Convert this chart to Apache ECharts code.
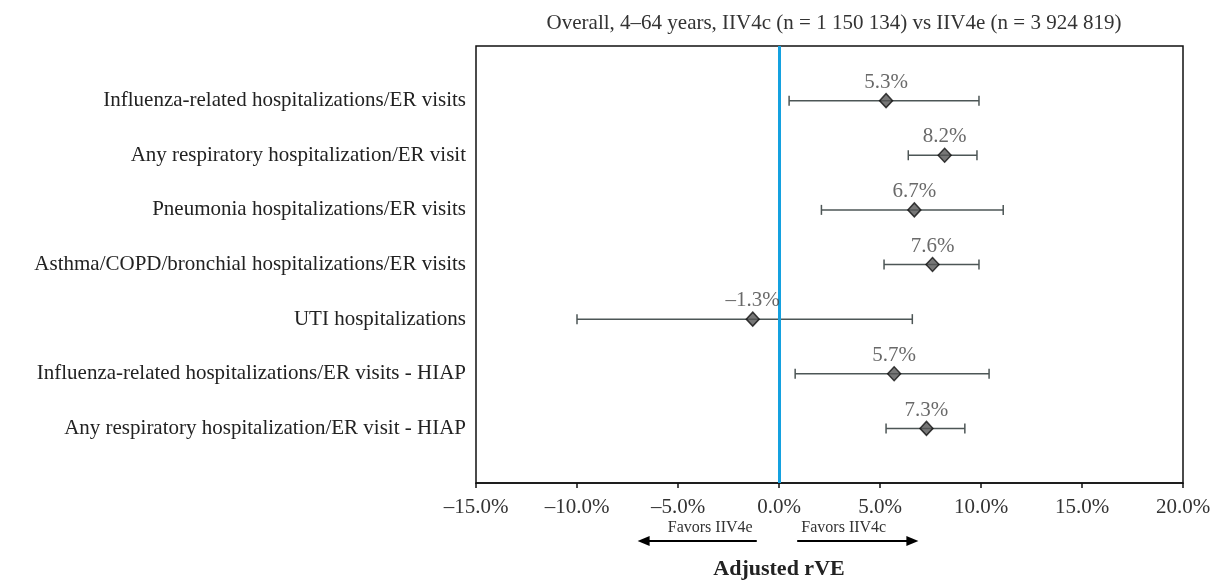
<!DOCTYPE html>
<html>
<head>
<meta charset="utf-8">
<script src="https://cdn.jsdelivr.net/npm/echarts@6/dist/echarts.min.js"></script>
<style>
html,body{margin:0;padding:0;background:#fff;}
#chart{width:1210px;height:580px;}
</style>
</head>
<body>
<div id="chart"></div>
<script>
const titleText = 'Overall, 4\u201364 years, IIV4c (n = 1 150 134) vs IIV4e (n = 3 924 819)';
const categories = [
  'Influenza-related hospitalizations/ER visits',
  'Any respiratory hospitalization/ER visit',
  'Pneumonia hospitalizations/ER visits',
  'Asthma/COPD/bronchial hospitalizations/ER visits',
  'UTI hospitalizations',
  'Influenza-related hospitalizations/ER visits - HIAP',
  'Any respiratory hospitalization/ER visit - HIAP'
];
const estimates = [5.3, 8.2, 6.7, 7.6, -1.3, 5.7, 7.3];
const lower = [0.5, 6.4, 2.1, 5.2, -10.0, 0.8, 5.3];
const upper = [9.9, 9.8, 11.1, 9.9, 6.6, 10.4, 9.2];
const xTicks = [-15, -10, -5, 0, 5, 10, 15, 20];
const xAxisTitle = 'Adjusted rVE';
const leftNote = 'Favors IIV4e';
const rightNote = 'Favors IIV4c';
const leftArrow = [-1.1, -7.0];
const rightArrow = [0.9, 6.9];

const FONT = '"Liberation Serif", "DejaVu Serif", serif';
const fmtPct = v => (v < 0 ? '\u2013' : '') + Math.abs(v).toFixed(1) + '%';

const chart = echarts.init(document.getElementById('chart'), null, {renderer: 'canvas'});

const rows = categories.map((c, i) => i + 1);

const option = {
  animation: false,
  backgroundColor: '#fff',
  textStyle: {fontFamily: FONT},
  title: {
    text: titleText,
    left: 829, top: 8, textAlign: 'center',
    textStyle: {fontFamily: FONT, fontSize: 21, fontWeight: 'normal', color: '#333'}
  },
  grid: {
    left: 476, right: 27, top: 46, bottom: 97,
    outerBoundsMode: 'none', containLabel: false,
    show: true, borderColor: '#111', borderWidth: 1.5, backgroundColor: 'transparent'
  },
  xAxis: {
    type: 'value', min: xTicks[0], max: xTicks[xTicks.length - 1], interval: 5,
    axisLine: {show: true, onZero: false, lineStyle: {color: '#111', width: 1.5}},
    axisTick: {show: true, length: 5, lineStyle: {color: '#111', width: 1.5}},
    splitLine: {show: false},
    axisLabel: {formatter: v => fmtPct(v), fontFamily: FONT, fontSize: 21, color: '#333', margin: 14}
  },
  yAxis: {
    type: 'value', min: 0, max: categories.length + 1, interval: 1, inverse: true,
    axisLine: {show: false}, axisTick: {show: false}, splitLine: {show: false},
    axisLabel: {
      formatter: v => (v >= 1 && v <= categories.length) ? categories[v - 1] : '',
      fontFamily: FONT, fontSize: 21, color: '#222', margin: 10
    }
  },
  series: [
    {
      type: 'custom',
      name: 'CI',
      data: rows.map((r, i) => [lower[i], upper[i], r]),
      encode: {x: [0, 1], y: 2},
      z: 3,
      renderItem: function (params, api) {
        const y = api.value(2);
        const p1 = api.coord([api.value(0), y]);
        const p2 = api.coord([api.value(1), y]);
        const h = 5;
        const style = {stroke: '#4d5656', lineWidth: 1.5};
        return {
          type: 'group',
          children: [
            {type: 'line', shape: {x1: p1[0], y1: p1[1], x2: p2[0], y2: p2[1]}, style},
            {type: 'line', shape: {x1: p1[0], y1: p1[1] - h, x2: p1[0], y2: p1[1] + h}, style},
            {type: 'line', shape: {x1: p2[0], y1: p2[1] - h, x2: p2[0], y2: p2[1] + h}, style}
          ]
        };
      }
    },
    {
      type: 'scatter',
      name: 'rVE',
      data: rows.map((r, i) => [estimates[i], r]),
      symbol: 'diamond',
      symbolSize: [13, 14],
      z: 5,
      itemStyle: {color: '#555', borderColor: '#111', borderWidth: 1.5},
      label: {
        show: true, position: 'top', distance: 0,
        formatter: p => fmtPct(p.value[0]),
        fontFamily: FONT, fontSize: 21, color: '#444'
      },
      markLine: {
        silent: true, symbol: 'none', label: {show: false},
        lineStyle: {color: '#14a1e0', width: 3, type: 'solid'},
        data: [{xAxis: 0}]
      }
    }
  ]
};
chart.setOption(option);

function addAnnotations() {
  const yPix = 541;
  const l0 = chart.convertToPixel({xAxisIndex: 0}, leftArrow[0]);
  const l1 = chart.convertToPixel({xAxisIndex: 0}, leftArrow[1]);
  const r0 = chart.convertToPixel({xAxisIndex: 0}, rightArrow[0]);
  const r1 = chart.convertToPixel({xAxisIndex: 0}, rightArrow[1]);
  const zero = chart.convertToPixel({xAxisIndex: 0}, 0);
  const arrowHead = (x, dir) => ({
    type: 'polygon',
    shape: {points: [[x, yPix], [x - dir * 12, yPix - 5], [x - dir * 12, yPix + 5]]},
    style: {fill: '#000'}
  });
  chart.setOption({
    graphic: [
      {type: 'line', shape: {x1: l0, y1: yPix, x2: l1 + 8, y2: yPix}, style: {stroke: '#000', lineWidth: 2}},
      arrowHead(l1, -1),
      {type: 'line', shape: {x1: r0, y1: yPix, x2: r1 - 8, y2: yPix}, style: {stroke: '#000', lineWidth: 2}},
      arrowHead(r1, 1),
      {type: 'text', x: (l0 + l1) / 2 + 13, y: 528, style: {text: leftNote, font: '16px ' + FONT, fill: '#333', align: 'center', verticalAlign: 'middle'}},
      {type: 'text', x: (r0 + r1) / 2 - 14, y: 528, style: {text: rightNote, font: '16px ' + FONT, fill: '#333', align: 'center', verticalAlign: 'middle'}},
      {type: 'text', x: zero, y: 569, style: {text: xAxisTitle, font: 'bold 22px ' + FONT, fill: '#222', align: 'center', verticalAlign: 'middle'}}
    ]
  });
}
addAnnotations();
</script>
</body>
</html>
